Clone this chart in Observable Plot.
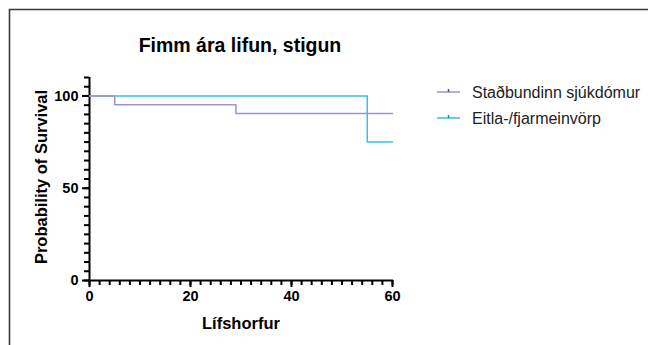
<!DOCTYPE html>
<html>
<head>
<meta charset="utf-8">
<script src="https://cdn.jsdelivr.net/npm/d3@7"></script>
<script src="https://cdn.jsdelivr.net/npm/@observablehq/plot@0.6"></script>
<style>
  html, body { margin: 0; padding: 0; background: #fff; }
  #chart { width: 648px; height: 345px; overflow: hidden; }
</style>
</head>
<body>
<div id="chart"></div>
<script>
// ---- data ----
const groups = ["Staðbundinn sjúkdómur", "Eitla-/fjarmeinvörp"];
const colors = ["#a590ca", "#3cbde6"];
const localTime = [0, 5, 29, 60];
const localSurv = [100, 95.2, 90.5, 90.5];
const metaTime = [0, 55, 60];
const metaSurv = [100, 75, 75];
const xMajorTicks = [0, 20, 40, 60];
const yMajorTicks = [0, 50, 100];
const title = "Fimm ára lifun, stigun";
const xLabel = "Lífshorfur";
const yLabel = "Probability of Survival";

const rows = [
  ...metaTime.map((t, i) => ({group: groups[1], time: t, surv: metaSurv[i]})),
  ...localTime.map((t, i) => ({group: groups[0], time: t, surv: localSurv[i]}))
];

const font = "'Liberation Sans', Arial, Helvetica, sans-serif";

const plot = Plot.plot({
  width: 648,
  height: 345,
  marginLeft: 89,
  marginRight: 256,
  marginTop: 77,
  marginBottom: 65,
  style: {fontFamily: font, fontSize: "14px", color: "#000", background: "#fff", overflow: "visible"},
  x: {domain: [0, 60]},
  y: {domain: [0, 110]},
  color: {domain: groups, range: colors},
  marks: [
    Plot.axisX({ticks: d3.range(0, 61, 2), tickSize: 5, text: null, strokeWidth: 2, label: null}),
    Plot.axisX({ticks: xMajorTicks, tickSize: 7, tickPadding: 3, strokeWidth: 2, fontWeight: "bold", fontSize: 14.5, label: null}),
    Plot.axisY({ticks: d3.range(0, 111, 5), tickSize: 5, text: null, strokeWidth: 2, label: null}),
    Plot.axisY({ticks: yMajorTicks, tickSize: 7, tickPadding: 4, strokeWidth: 2, fontWeight: "bold", fontSize: 14.5, label: null}),
    Plot.ruleX([0], {y1: 0, y2: 110, strokeWidth: 2, stroke: "#000"}),
    Plot.ruleY([0], {x1: 0, x2: 60, strokeWidth: 2, stroke: "#000", strokeLinecap: "square"}),
    Plot.line(rows, {x: "time", y: "surv", z: "group", stroke: "group", curve: "step-after", strokeWidth: 1.5})
  ]
});

document.getElementById("chart").appendChild(plot);

const svg = d3.select(plot);
// border frame
svg.append("path").attr("d", "M9.5,345V9.5H648").attr("fill", "none").attr("stroke", "#3a3a3a").attr("stroke-width", 1.6);
// title
svg.append("text").attr("x", 240).attr("y", 52).attr("text-anchor", "middle")
  .attr("font-family", font).attr("font-size", 19.5).attr("font-weight", "bold").attr("fill", "#000").text(title);
// axis labels
svg.append("text").attr("transform", "translate(47,177) rotate(-90)").attr("text-anchor", "middle")
  .attr("font-family", font).attr("font-size", 16.5).attr("font-weight", "bold").attr("fill", "#000").text(yLabel);
svg.append("text").attr("x", 241).attr("y", 329).attr("text-anchor", "middle")
  .attr("font-family", font).attr("font-size", 16.5).attr("font-weight", "bold").attr("fill", "#000").text(xLabel);
// legend
groups.forEach((g, i) => {
  const y = 92 + i * 26;
  const lg = svg.append("g");
  lg.append("line").attr("x1", 437).attr("x2", 460).attr("y1", y).attr("y2", y).attr("stroke", colors[i]).attr("stroke-width", 1.5);
  lg.append("line").attr("x1", 448.5).attr("x2", 448.5).attr("y1", y - 3).attr("y2", y).attr("stroke", i === 0 ? "#5a4a90" : "#1f7fd0").attr("stroke-width", 1.5);
  lg.append("text").attr("x", 472).attr("y", y).attr("dy", "0.35em").attr("text-anchor", "start")
    .attr("font-family", font).attr("font-size", 16).attr("fill", "#222").text(g);
});
</script>
</body>
</html>
